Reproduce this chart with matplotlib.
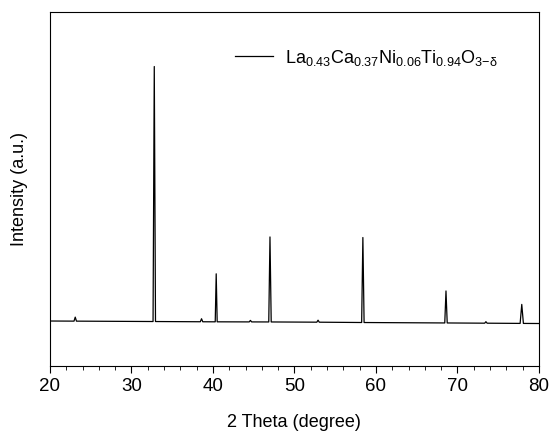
import matplotlib
matplotlib.use('Agg')
import matplotlib.pyplot as plt
from matplotlib.ticker import MultipleLocator

plt.rcParams['font.family'] = 'Liberation Sans'
plt.rcParams['mathtext.fontset'] = 'custom'
plt.rcParams['mathtext.rm'] = 'Liberation Sans'
plt.rcParams['mathtext.it'] = 'Liberation Sans'

# peak list: 2theta, height above baseline (a.u.)
peak_pos = [23.1, 32.8, 38.6, 40.4, 44.6, 47.0, 52.9, 58.4, 68.6, 73.5, 77.9]
peak_height = [4, 255, 3, 48, 1.5, 85, 2, 85, 32, 1.5, 19]
peak_half = [0.15, 0.15, 0.15, 0.12, 0.15, 0.15, 0.15, 0.15, 0.15, 0.15, 0.2]

# baseline drift
base_x = [20, 30, 40, 50, 60, 70, 80]
base_y = [1.0, 0.6, 0.2, 0.0, -0.6, -1.0, -1.5]

label = r'La$_{0.43}$Ca$_{0.37}$Ni$_{0.06}$Ti$_{0.94}$O$_{3\mathrm{-}\delta}$'


def baseline(t):
    for i in range(len(base_x) - 1):
        if base_x[i] <= t <= base_x[i + 1]:
            f = (t - base_x[i]) / (base_x[i + 1] - base_x[i])
            return base_y[i] + f * (base_y[i + 1] - base_y[i])
    return base_y[-1]


# polyline: baseline points plus a narrow spike at every peak
xs, ys = [20], [baseline(20)]
for p, h, w in zip(peak_pos, peak_height, peak_half):
    for t, add in [(p - w, 0), (p, h), (p + w, 0)]:
        xs.append(t)
        ys.append(baseline(t) + add)
xs.append(80)
ys.append(baseline(80))

fig = plt.figure(figsize=(5.51, 4.33), dpi=100)
ax = fig.add_axes([0.0907, 0.1547, 0.8873, 0.8176])
ax.plot(xs, ys, color='black', lw=0.9, label=label)

ax.set_xlim(20, 80)
ax.set_ylim(-44, 310)
ax.set_yticks([])
ax.xaxis.set_major_locator(MultipleLocator(10))
ax.xaxis.set_minor_locator(MultipleLocator(2))
ax.tick_params(axis='x', which='major', length=5, labelsize=13.5, direction='out')
ax.tick_params(axis='x', which='minor', length=3, direction='out')
ax.set_xlabel('2 Theta (degree)', fontsize=13, labelpad=14)
ax.set_ylabel('Intensity (a.u.)', fontsize=13, labelpad=16)

ax.legend(loc='upper right', bbox_to_anchor=(0.95, 0.945), frameon=False,
          fontsize=13, handlelength=2.1, handletextpad=0.7)

fig.savefig('out.png', dpi=100)
